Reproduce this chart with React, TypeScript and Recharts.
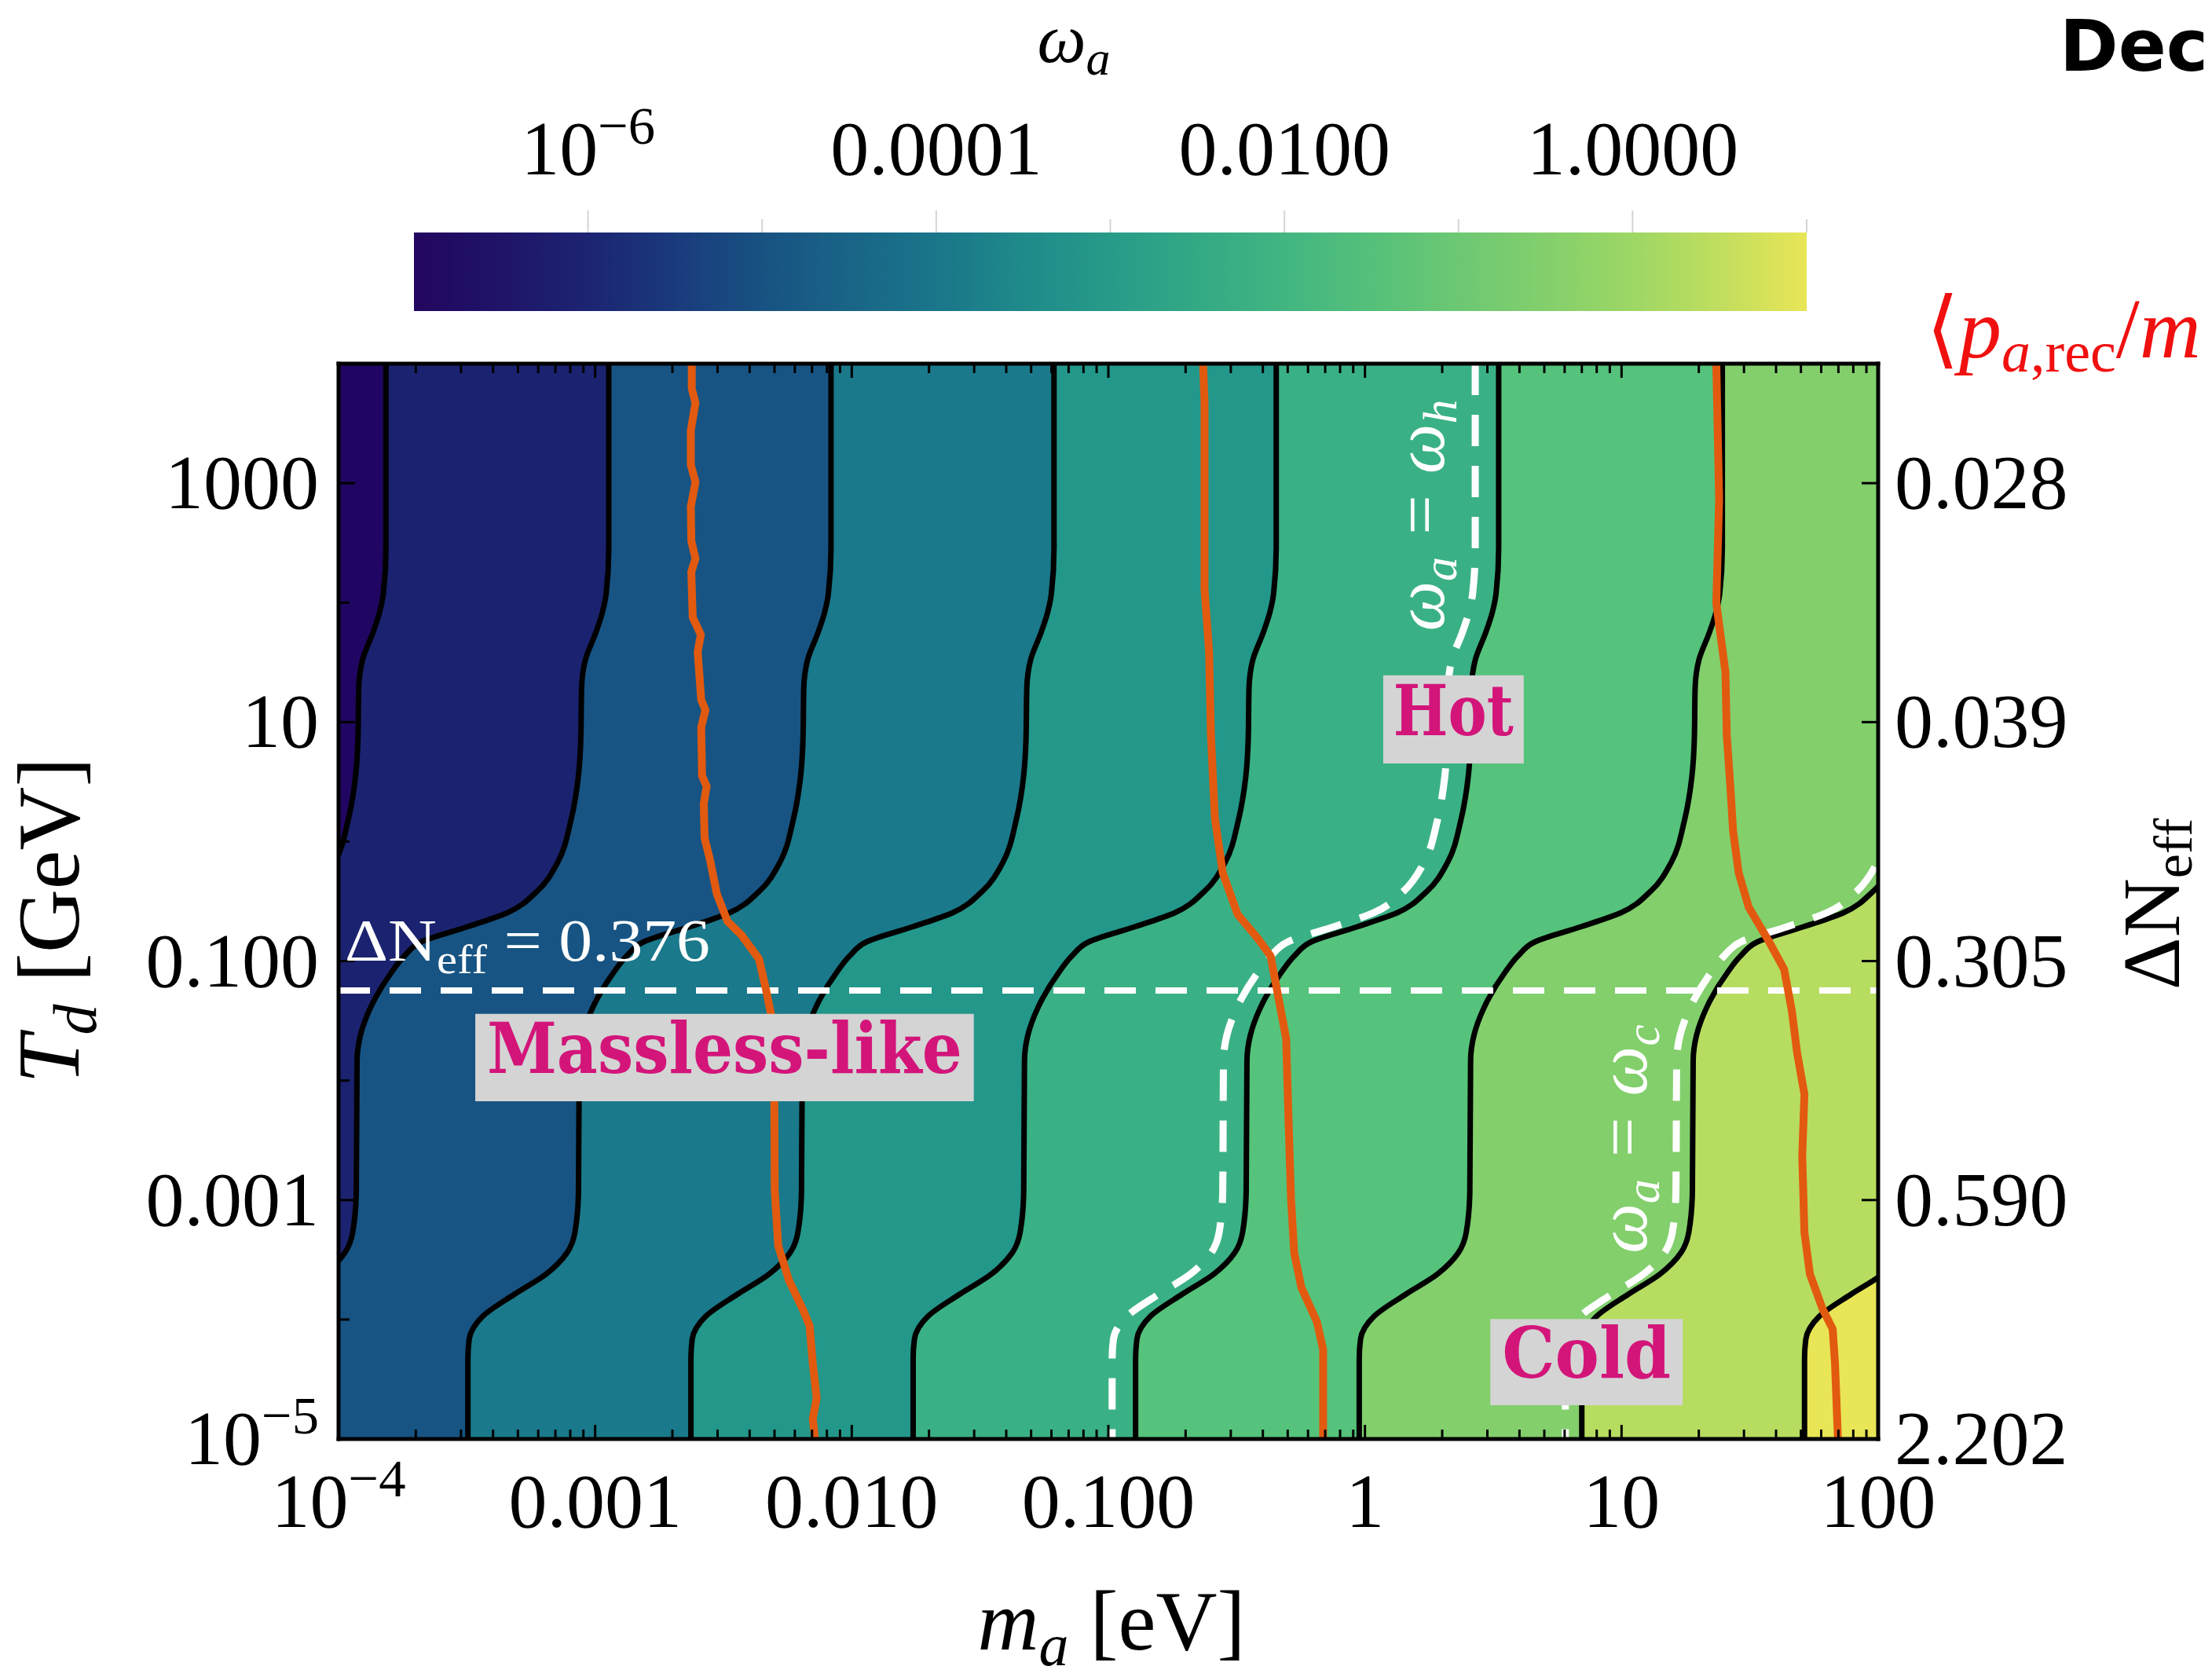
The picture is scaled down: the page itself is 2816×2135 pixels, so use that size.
import React from 'react';
import { ComposedChart, Area, Bar, Line, XAxis, YAxis, ReferenceArea, ReferenceLine } from 'recharts';

const W = 2816;
const H = 2135;
const SERIF = '"Liberation Serif", "Times New Roman", serif';
const SLAB = '"DejaVu Serif", serif';
const MAGENTA = '#d3157a';
const ORANGE = '#e25a0f';

// axis ticks
const X_TICKS = [1e-4, 1e-3, 1e-2, 0.1, 1, 10, 100];
const X_TICK_LABELS = ['10^\u22124', '0.001', '0.010', '0.100', '1', '10', '100'];
const Y_TICKS = [1e-5, 1e-3, 0.1, 10, 1000];
const Y_TICK_LABELS = ['10^\u22125', '0.001', '0.100', '10', '1000'];
const Y_MINOR_TICKS = [1e-4, 1e-2, 1, 100];
const DNEFF_LABELS = ['2.202', '0.590', '0.305', '0.039', '0.028'];

// colorbar
const CBAR_RANGE = [1e-7, 10];
const CBAR_TICKS = [1e-6, 1e-4, 1e-2, 1];
const CBAR_TICK_LABELS = ['10^\u22126', '0.0001', '0.0100', '1.0000'];
const CBAR_MINOR_TICKS = [1e-5, 1e-3, 0.1, 10];
const CBAR_COLORS = [
  '#23065f', '#1f1468', '#1c2472', '#1a3a7c', '#185282', '#196487', '#1a768a', '#1f8a8a', '#279b89',
  '#33a985', '#42b581', '#55c07a', '#6cc873', '#83cf6c', '#9dd765', '#c0de5e', '#e8e556',
];

// shape shared by every omega_a contour: T_d [GeV] and shift of log10(m_a) from its value at the top
const PROFILE_TD = [
  1e4, 286, 120, 82.6, 56.5, 33.3, 19.3, 7.33, 3.44, 1.49, 0.67, 0.383, 0.254, 0.194, 0.145,
  0.11, 0.0804, 0.0406, 0.0239, 0.01476, 1.2e-3, 5.36e-4, 3.61e-4, 2.4e-4, 1.62e-4, 1.06e-4,
  6.84e-5, 4.69e-5, 1e-5,
];
const PROFILE_SHIFT = [
  0, 0, -0.01, -0.025, -0.05, -0.091, -0.106, -0.109, -0.119, -0.148, -0.199, -0.28, -0.395,
  -0.55, -0.73, -0.797, -0.847, -0.929, -0.968, -0.981, -0.984, -0.998, -1.029, -1.11, -1.235,
  -1.358, -1.41, -1.415, -1.415,
];

// m_a [eV] of each black contour at the top edge (T_d = 1e4 GeV)
const CONTOUR_TOP_MA = [1.53e-4, 1.13e-3, 8.3e-3, 0.0614, 0.451, 3.32, 24.7, 182, 1343];
const BAND_COLORS = [
  '#200662', '#1b2370', '#175483', '#1a798a', '#23978a', '#3ab185', '#55c37b', '#82cf6c', '#b7dd60', '#e8e556',
];
// omega_a = omega_h and omega_a = omega_c (white dashed)
const OMEGA_H_TOP_MA = 2.69;
const OMEGA_C_TOP_MA = 157;

// <p_a,rec / m_a> contours (orange)
const ORANGE_1 = [
  { T: 1e4, m: 2.38e-3 }, { T: 6170, m: 2.38e-3 }, { T: 4700, m: 2.46e-3 }, { T: 2770, m: 2.36e-3 },
  { T: 1420, m: 2.36e-3 }, { T: 1020, m: 2.46e-3 }, { T: 637, m: 2.36e-3 }, { T: 327, m: 2.37e-3 },
  { T: 234, m: 2.46e-3 }, { T: 181, m: 2.37e-3 }, { T: 75.3, m: 2.4e-3 }, { T: 54, m: 2.58e-3 },
  { T: 38.7, m: 2.51e-3 }, { T: 15.4, m: 2.59e-3 }, { T: 12.6, m: 2.69e-3 }, { T: 9.05, m: 2.59e-3 },
  { T: 3.54, m: 2.61e-3 }, { T: 2.91, m: 2.72e-3 }, { T: 2.08, m: 2.65e-3 }, { T: 1.07, m: 2.67e-3 },
  { T: 0.711, m: 2.8e-3 }, { T: 0.365, m: 2.98e-3 }, { T: 0.215, m: 3.28e-3 }, { T: 0.166, m: 3.71e-3 },
  { T: 0.104, m: 4.35e-3 }, { T: 0.0568, m: 4.64e-3 }, { T: 0.0355, m: 4.85e-3 }, { T: 6.71e-3, m: 4.99e-3 },
  { T: 1.2e-3, m: 5.01e-3 }, { T: 4.14e-4, m: 5.17e-3 }, { T: 2.13e-4, m: 5.69e-3 }, { T: 1.23e-4, m: 6.43e-3 },
  { T: 8.85e-5, m: 6.85e-3 }, { T: 4.28e-5, m: 7.05e-3 }, { T: 2.2e-5, m: 7.3e-3 }, { T: 1.48e-5, m: 7.05e-3 },
  { T: 1e-5, m: 7.19e-3 },
];
const ORANGE_2 = [
  { T: 1e4, m: 0.234 }, { T: 4700, m: 0.237 }, { T: 130, m: 0.237 }, { T: 38.7, m: 0.247 },
  { T: 7.88, m: 0.251 }, { T: 1.585, m: 0.26 }, { T: 0.549, m: 0.279 }, { T: 0.246, m: 0.319 },
  { T: 0.154, m: 0.383 }, { T: 0.11, m: 0.429 }, { T: 0.0495, m: 0.46 }, { T: 0.0225, m: 0.493 },
  { T: 4.53e-3, m: 0.504 }, { T: 1.04e-3, m: 0.515 }, { T: 3.61e-4, m: 0.53 }, { T: 1.86e-4, m: 0.565 },
  { T: 9.54e-5, m: 0.65 }, { T: 5.62e-5, m: 0.687 }, { T: 1e-5, m: 0.687 },
];
const ORANGE_3 = [
  { T: 1e4, m: 23.4 }, { T: 729, m: 24.0 }, { T: 98.9, m: 23.4 }, { T: 26.1, m: 25.4 },
  { T: 7.88, m: 25.7 }, { T: 2.7, m: 26.6 }, { T: 1.23, m: 27.2 }, { T: 0.549, m: 28.6 },
  { T: 0.282, m: 31.3 }, { T: 0.145, m: 37.6 }, { T: 0.0855, m: 43.0 }, { T: 0.0383, m: 46.1 },
  { T: 0.0172, m: 48.3 }, { T: 7.69e-3, m: 51.6 }, { T: 2.33e-3, m: 50.6 }, { T: 5.36e-4, m: 51.6 },
  { T: 2.4e-4, m: 54.2 }, { T: 1.23e-4, m: 60.7 }, { T: 8.32e-5, m: 66.5 }, { T: 4.28e-5, m: 67.9 },
  { T: 1e-5, m: 69.7 },
];

// Delta N_eff = 0.376 line
const DNEFF_LINE_TD = 0.0568;

// label boxes [m1, m2, T1, T2]
const BOX_MASSLESS = [3.41e-4, 0.0299, 0.00671, 0.0361];
const BOX_HOT = [1.178, 4.157, 4.51, 24.6];
const BOX_COLD = [3.08, 17.3, 1.92e-5, 1.01e-4];

// table for the chart: one row per profile temperature
const ROWS = PROFILE_TD.map((T, j) => {
  const f = Math.pow(10, PROFILE_SHIFT[j]);
  const row: any = { T, wh: OMEGA_H_TOP_MA * f, wc: OMEGA_C_TOP_MA * f };
  const ms = CONTOUR_TOP_MA.map((m) => m * f);
  ms.forEach((m, i) => (row['c' + i] = m));
  const edges = [1e-6, ...ms, 1e4];
  BAND_COLORS.forEach((_, b) => (row['b' + b] = [edges[b], edges[b + 1]]));
  return row;
});

const CBAR_ROWS = [{ k: 'omega', v: CBAR_RANGE }];

const X_MINOR = X_TICKS.slice(0, -1).flatMap((d) => [2, 3, 4, 5, 6, 7, 8, 9].map((k) => d * k));
const X_ALL = [...X_TICKS, ...X_MINOR];

const logEq = (a: number, b: number) => Math.abs(Math.log10(a) - Math.log10(b)) < 1e-6;

function TickText({ x, y, label, anchor, size, fill = '#000' }: any) {
  const parts = label.split('^');
  return (
    <text x={x} y={y} textAnchor={anchor} fontFamily={SERIF} fontSize={size} fill={fill}>
      {parts[0]}
      {parts[1] && (
        <tspan dy={-size * 0.4} fontSize={size * 0.7}>
          {parts[1]}
        </tspan>
      )}
    </text>
  );
}

const bottomTick = (p: any) => {
  const i = X_TICKS.findIndex((t) => logEq(t, p.payload.value));
  return (
    <g>
      <line x1={p.x} x2={p.x} y1={p.y} y2={p.y - (i >= 0 ? 18 : 12)} stroke="#000" strokeWidth={3} />
      {i >= 0 && <TickText x={p.x} y={p.y + 112} label={X_TICK_LABELS[i]} anchor="middle" size={98} />}
    </g>
  );
};

const topTick = (p: any) => {
  const major = X_TICKS.some((t) => logEq(t, p.payload.value));
  return <line x1={p.x} x2={p.x} y1={p.y} y2={p.y + (major ? 18 : 12)} stroke="#000" strokeWidth={3} />;
};

const leftTick = (p: any) => {
  const i = Y_TICKS.findIndex((t) => logEq(t, p.payload.value));
  return (
    <g>
      <line x1={p.x} x2={p.x + (i >= 0 ? 21 : 14)} y1={p.y} y2={p.y} stroke="#000" strokeWidth={3} />
      {i >= 0 && <TickText x={p.x - 25} y={p.y + 32} label={Y_TICK_LABELS[i]} anchor="end" size={98} />}
    </g>
  );
};

const rightTick = (p: any) => {
  const i = Y_TICKS.findIndex((t) => logEq(t, p.payload.value));
  return (
    <g>
      <line x1={p.x} x2={p.x - 21} y1={p.y} y2={p.y} stroke="#000" strokeWidth={3} />
      <TickText x={p.x + 21} y={p.y + 32} label={DNEFF_LABELS[i]} anchor="start" size={98} />
    </g>
  );
};

const cbarTick = (p: any) => {
  const i = CBAR_TICKS.findIndex((t) => logEq(t, p.payload.value));
  return (
    <g>
      <line x1={p.x} x2={p.x} y1={p.y} y2={p.y - (i >= 0 ? 28 : 17)} stroke="#d4d4d4" strokeWidth={2} />
      {i >= 0 && <TickText x={p.x} y={p.y - 74} label={CBAR_TICK_LABELS[i]} anchor="middle" size={98} />}
    </g>
  );
};

function BoxLabel(props: any) {
  const { viewBox, text, len } = props;
  if (!viewBox) return null;
  const { x, y, width, height } = viewBox;
  return (
    <text
      x={x + width / 2}
      y={y + height / 2 + 20}
      textAnchor="middle"
      fontFamily={SLAB}
      fontWeight="bold"
      fontSize={90}
      fill={MAGENTA}
      textLength={len}
      lengthAdjust="spacingAndGlyphs"
    >
      {text}
    </text>
  );
}

const frame = { stroke: '#000', strokeWidth: 5, strokeLinecap: 'square' as const };
const axisBase = {
  type: 'number' as const,
  scale: 'log' as const,
  allowDataOverflow: true,
  interval: 0 as const,
  tickLine: false,
  tickSize: 0,
  tickMargin: 0,
};
const PLOT_MARGIN = { top: 462, right: 424, bottom: 302, left: 430 };

// the four frame axes; `draw` false keeps the same plot box without painting anything
function frameAxes(draw: boolean) {
  return [
    <XAxis
      key="xb"
      {...axisBase}
      domain={[1e-4, 100]}
      ticks={X_ALL}
      tick={draw ? bottomTick : false}
      axisLine={draw ? frame : false}
      height={1}
    />,
    <XAxis
      key="xt"
      {...axisBase}
      xAxisId="top"
      orientation="top"
      domain={[1e-4, 100]}
      ticks={X_ALL}
      tick={draw ? topTick : false}
      axisLine={draw ? frame : false}
      height={1}
    />,
    <YAxis
      key="yl"
      {...axisBase}
      dataKey="T"
      domain={[1e-5, 1e4]}
      reversed
      ticks={[...Y_TICKS, ...Y_MINOR_TICKS]}
      tick={draw ? leftTick : false}
      axisLine={draw ? frame : false}
      width={1}
    />,
    <YAxis
      key="yr"
      {...axisBase}
      yAxisId="right"
      orientation="right"
      dataKey="T"
      domain={[1e-5, 1e4]}
      reversed
      ticks={Y_TICKS}
      tick={draw ? rightTick : false}
      axisLine={draw ? frame : false}
      width={1}
    />,
  ];
}

export default function App() {
  return (
    <div style={{ position: 'relative', width: W, height: H, background: '#fff', overflow: 'hidden' }}>
      <style>{'body{margin:0}'}</style>

      {/* colorbar */}
      <div style={{ position: 'absolute', left: 0, top: 0 }}>
        <ComposedChart
          width={W}
          height={420}
          layout="vertical"
          data={CBAR_ROWS}
          barCategoryGap={0}
          margin={{ top: 295, right: 516, bottom: 24, left: 527 }}
        >
          <defs>
            <linearGradient id="cbarGrad" x1="0" y1="0" x2="1" y2="0">
              {CBAR_COLORS.map((c, i) => (
                <stop key={i} offset={i / (CBAR_COLORS.length - 1)} stopColor={c} />
              ))}
            </linearGradient>
          </defs>
          <XAxis
            {...axisBase}
            domain={CBAR_RANGE}
            orientation="top"
            ticks={[...CBAR_TICKS, ...CBAR_MINOR_TICKS]}
            tick={cbarTick}
            axisLine={false}
            height={1}
          />
          <YAxis type="category" dataKey="k" hide width={0} />
          <Bar dataKey="v" fill="url(#cbarGrad)" isAnimationActive={false} />
        </ComposedChart>
      </div>

      {/* main contour plot */}
      <div style={{ position: 'absolute', left: 0, top: 0 }}>
        <ComposedChart width={W} height={H} layout="vertical" data={ROWS} margin={PLOT_MARGIN}>
          {frameAxes(true)}

          {BAND_COLORS.map((c, b) => (
            <Area
              key={'b' + b}
              dataKey={'b' + b}
              type="monotone"
              fill={c}
              fillOpacity={1}
              stroke="none"
              dot={false}
              activeDot={false}
              isAnimationActive={false}
            />
          ))}
          {CONTOUR_TOP_MA.map((_, i) => (
            <Line
              key={'c' + i}
              dataKey={'c' + i}
              type="monotone"
              stroke="#000"
              strokeWidth={7}
              dot={false}
              activeDot={false}
              isAnimationActive={false}
            />
          ))}
          <Line dataKey="wh" type="monotone" stroke="#fff" strokeWidth={9} strokeDasharray="40 25" dot={false} activeDot={false} isAnimationActive={false} />
          <Line dataKey="wc" type="monotone" stroke="#fff" strokeWidth={9} strokeDasharray="40 25" dot={false} activeDot={false} isAnimationActive={false} />
          <ReferenceLine y={DNEFF_LINE_TD} stroke="#fff" strokeWidth={8} strokeDasharray="40 25" />
          {[ORANGE_1, ORANGE_2, ORANGE_3].map((d, i) => (
            <Line
              key={'o' + i}
              data={d}
              dataKey="m"
              type="linear"
              stroke={ORANGE}
              strokeWidth={10}
              dot={false}
              activeDot={false}
              isAnimationActive={false}
            />
          ))}
        </ComposedChart>
      </div>

      {/* label boxes, on the same axes, painted above the curves */}
      <div style={{ position: 'absolute', left: 0, top: 0 }}>
        <ComposedChart width={W} height={H} layout="vertical" data={ROWS} margin={PLOT_MARGIN}>
          {frameAxes(false)}
          <ReferenceArea
            x1={BOX_MASSLESS[0]}
            x2={BOX_MASSLESS[1]}
            y1={BOX_MASSLESS[2]}
            y2={BOX_MASSLESS[3]}
            fill="#d4d4d4"
            fillOpacity={1}
            stroke="none"
            label={<BoxLabel text="Massless-like" len={605} />}
          />
          <ReferenceArea
            x1={BOX_HOT[0]}
            x2={BOX_HOT[1]}
            y1={BOX_HOT[2]}
            y2={BOX_HOT[3]}
            fill="#d4d4d4"
            fillOpacity={1}
            stroke="none"
            label={<BoxLabel text="Hot" len={153} />}
          />
          <ReferenceArea
            x1={BOX_COLD[0]}
            x2={BOX_COLD[1]}
            y1={BOX_COLD[2]}
            y2={BOX_COLD[3]}
            fill="#d4d4d4"
            fillOpacity={1}
            stroke="none"
            label={<BoxLabel text="Cold" len={215} />}
          />
        </ComposedChart>
      </div>

      {/* titles and annotations */}
      <svg width={W} height={H} style={{ position: 'absolute', left: 0, top: 0, pointerEvents: 'none' }}>
        <text x={1367} y={79} textAnchor="middle" fontFamily={SERIF} fontStyle="italic" fontSize={88}>
          ω<tspan fontSize={62} dy={16}>a</tspan>
        </text>
        <text x={2622} y={90} fontFamily='"DejaVu Sans", sans-serif' fontWeight="bold" fontSize={90}>
          Dec
        </text>
        <text x={2452} y={455} fill="#f01010" fontFamily={SERIF} fontSize={108}>
          ⟨<tspan fontStyle="italic">p</tspan>
          <tspan fontStyle="italic" fontSize={74} dy={18}>a</tspan>
          <tspan fontSize={74}>,rec</tspan>
          <tspan dy={-18}>/</tspan>
          <tspan fontStyle="italic">m</tspan>
        </text>
        <text x={1415} y={2100} textAnchor="middle" fontFamily={SERIF} fontSize={108}>
          <tspan fontStyle="italic">m</tspan>
          <tspan fontStyle="italic" fontSize={76} dy={20}>a</tspan>
          <tspan dy={-20}> [eV]</tspan>
        </text>
        <text x={100} y={1172} transform="rotate(-90 100 1172)" textAnchor="middle" fontFamily={SERIF} fontSize={112}>
          <tspan fontStyle="italic">T</tspan>
          <tspan fontStyle="italic" fontSize={78} dy={22}>d</tspan>
          <tspan dy={-22}> [GeV]</tspan>
        </text>
        <text x={2774} y={1151} transform="rotate(-90 2774 1151)" textAnchor="middle" fontFamily={SERIF} fontSize={104}>
          ΔN<tspan fontSize={70} dy={16}>eff</tspan>
        </text>
        <text x={439} y={1223} fill="#fff" fontFamily={SERIF} fontSize={76} textLength={465} lengthAdjust="spacingAndGlyphs">
          ΔN<tspan fontSize={52} dy={16}>eff</tspan>
          <tspan dy={-16}>{'  = 0.376'}</tspan>
        </text>
        <text x={1838} y={656} transform="rotate(-90 1838 656)" textAnchor="middle" fill="#fff" fontFamily={SERIF} fontStyle="italic" fontSize={90}>
          ω<tspan fontSize={62} dy={16}>a</tspan>
          <tspan dy={-16}>{' = ω'}</tspan>
          <tspan fontSize={62} dy={16}>h</tspan>
        </text>
        <text x={2096} y={1450} transform="rotate(-90 2096 1450)" textAnchor="middle" fill="#fff" fontFamily={SERIF} fontStyle="italic" fontSize={90}>
          ω<tspan fontSize={62} dy={16}>a</tspan>
          <tspan dy={-16}>{' = ω'}</tspan>
          <tspan fontSize={62} dy={16}>c</tspan>
        </text>
      </svg>
    </div>
  );
}
